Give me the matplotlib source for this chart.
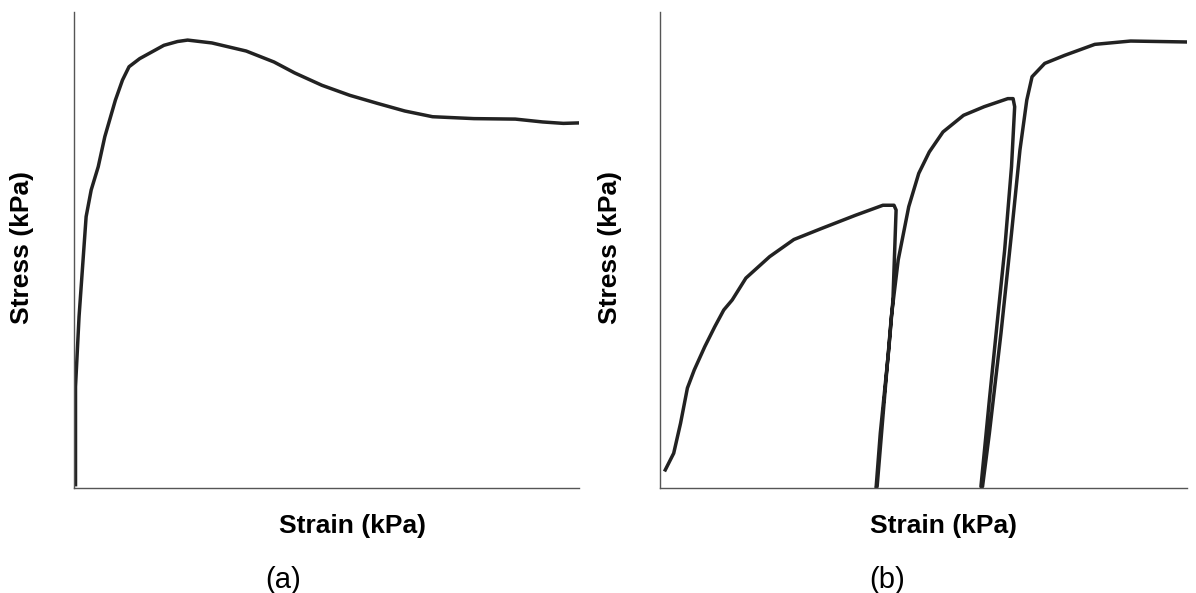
import matplotlib
matplotlib.use("Agg")
import matplotlib.pyplot as plt

# panel (a): monotonic stress-strain (axes units 0-100)
strain_a = [0.3, 0.3, 1.0, 1.7, 2.4, 3.4, 4.8, 6.1, 8.2, 9.6, 10.9, 13.0, 15.4, 17.8,
            20.5, 22.5, 27.3, 34.1, 39.6, 43.7, 49.1, 54.6, 60.1, 65.5, 71.0, 79.2,
            87.4, 92.8, 96.9, 100.0]
stress_a = [0.7, 21.3, 36.0, 46.5, 57.0, 62.6, 67.5, 73.8, 81.5, 85.7, 88.5, 90.2, 91.6, 93.0,
            93.8, 94.1, 93.5, 91.8, 89.5, 87.2, 84.6, 82.5, 80.8, 79.2, 78.0, 77.6,
            77.5, 76.9, 76.6, 76.7]

# panel (b): loading / unloading / reloading cycles
strain_b = [1.0, 2.6, 3.9, 5.2, 6.5, 8.5, 10.4, 12.1, 13.7, 16.3, 20.8, 25.4, 30.6, 37.1,
            42.3, 44.4, 44.8, 44.2, 43.4, 41.8, 41.0,
            41.2, 42.3, 43.9, 45.2, 47.2, 49.1, 51.1, 53.7, 57.6, 61.5, 66.0, 67.0, 67.3,
            66.7, 65.4, 64.1, 62.5, 60.9,
            61.2, 62.5, 64.7, 66.7, 68.3, 69.6, 70.6, 73.0, 76.8, 82.5, 89.3, 100.0]
stress_b = [3.8, 7.3, 13.6, 21.0, 24.8, 29.7, 33.9, 37.4, 39.5, 44.1, 48.6, 52.2, 54.5, 57.3,
            59.4, 59.4, 58.4, 39.5, 29.0, 11.5, 0.0,
            0.3, 15.0, 36.0, 47.9, 59.1, 66.1, 70.6, 74.8, 78.3, 80.1, 81.8, 81.8, 80.1,
            67.5, 50.0, 36.0, 18.5, 0.3,
            0.3, 11.5, 32.5, 53.5, 71.0, 81.5, 86.4, 89.2, 90.9, 93.2, 93.9, 93.7]

W, H = 1196, 593
fig = plt.figure(figsize=(W / 100, H / 100), dpi=100)
plt.rcParams['font.family'] = ['Liberation Sans', 'DejaVu Sans']

# (x0, x1, xs, ys, tag, ylabel x, xlabel x, tag x) in pixels
panels = [
    (74, 579, strain_a, stress_a, "(a)", 22, 352, 283),
    (660, 1187, strain_b, stress_b, "(b)", 610, 944, 887),
]
top, bottom = 12, 488
for x0, x1, xs, ys, tag, ylx, xlx, tagx in panels:
    ax = fig.add_axes([x0 / W, 1 - bottom / H, (x1 - x0) / W, (bottom - top) / H])
    ax.plot(xs, ys, color="#222222", lw=2.5, solid_joinstyle="round")
    ax.set_xlim(0, 100)
    ax.set_ylim(0, 100)
    ax.set_xticks([])
    ax.set_yticks([])
    for s in ("top", "right"):
        ax.spines[s].set_visible(False)
    for s in ("left", "bottom"):
        ax.spines[s].set_color("#555555")
        ax.spines[s].set_linewidth(1.0)
    fig.text(ylx / W, 1 - 247 / H, "Stress (kPa)", rotation=90, ha="center", va="center",
             fontsize=19, fontweight="bold")
    fig.text(xlx / W, 1 - 526 / H, "Strain (kPa)", ha="center", va="center",
             fontsize=19, fontweight="bold")
    fig.text(tagx / W, 1 - 580 / H, tag, ha="center", va="center", fontsize=21)

fig.savefig("out.png", dpi=100)
